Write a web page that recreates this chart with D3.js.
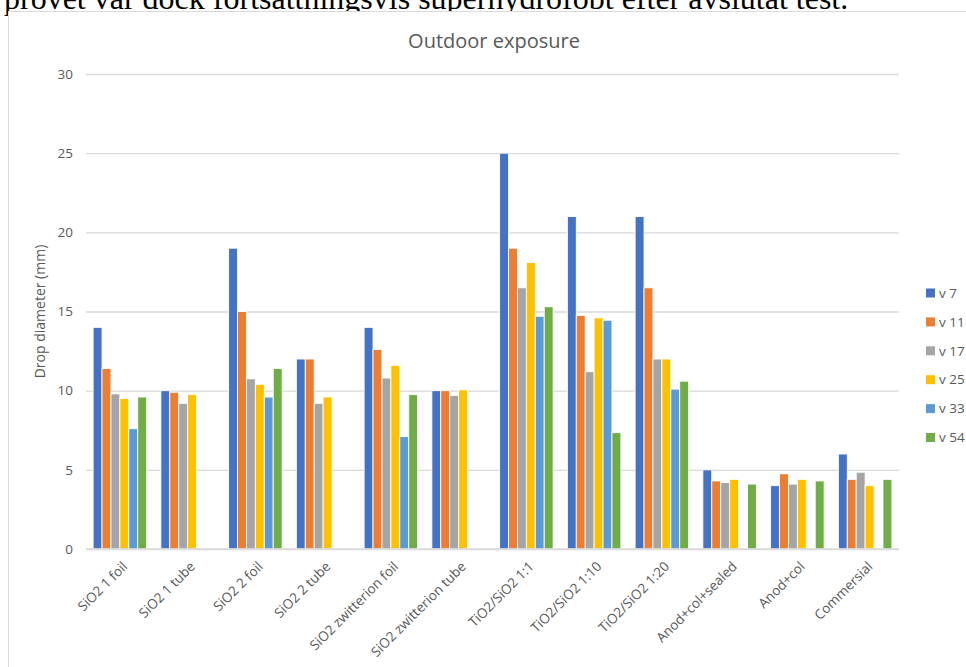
<!DOCTYPE html>
<html>
<head>
<meta charset="utf-8">
<script src="https://cdn.jsdelivr.net/npm/d3@7"></script>
<style>
  html, body { margin: 0; padding: 0; background: #fff; overflow: hidden; }
  svg { display: block; }
</style>
</head>
<body>
<svg id="chart" width="966" height="667"></svg>
<script>
// Drop diameter measured after outdoor exposure, per coating and week
const categories = ["SiO2 1 foil", "SiO2 1 tube", "SiO2 2 foil", "SiO2 2 tube",
  "SiO2 zwitterion foil", "SiO2 zwitterion tube", "TiO2/SiO2 1:1", "TiO2/SiO2 1:10",
  "TiO2/SiO2 1:20", "Anod+col+sealed", "Anod+col", "Commersial"];
const seriesNames = ["v 7", "v 11", "v 17", "v 25", "v 33", "v 54"];
const v7  = [14, 10, 19, 12, 14, 10, 25, 21, 21, 5, 4, 6];
const v11 = [11.4, 9.9, 15, 12, 12.6, 10, 19, 14.75, 16.5, 4.3, 4.75, 4.4];
const v17 = [9.8, 9.2, 10.75, 9.2, 10.8, 9.7, 16.5, 11.2, 12, 4.2, 4.1, 4.85];
const v25 = [9.5, 9.75, 10.4, 9.6, 11.6, 10.05, 18.1, 14.6, 12, 4.4, 4.4, 4.0];
const v33 = [7.6, null, 9.6, null, 7.1, null, 14.7, 14.45, 10.1, null, null, null];
const v54 = [9.6, null, 11.4, null, 9.75, null, 15.3, 7.35, 10.6, 4.1, 4.3, 4.4];
const seriesValues = [v7, v11, v17, v25, v33, v54];
const yTicks = [0, 5, 10, 15, 20, 25, 30];
const colors = ["#4472C4", "#ED7D31", "#A5A5A5", "#FFC000", "#5B9BD5", "#70AD47"];
const chartTitle = "Outdoor exposure";
const yTitle = "Drop diameter (mm)";
const docLine = "provet var dock fortsättningsvis superhydrofobt efter avslutat test.";

const font = "'Open Sans', sans-serif";
const textGray = "#595959";
const gridGray = "#d9d9d9";

const svg = d3.select("#chart");

// surrounding document text line
svg.append("text")
  .attr("x", 4).attr("y", 9)
  .attr("font-family", "'Liberation Serif', 'Times New Roman', serif")
  .attr("font-size", 32)
  .attr("fill", "#000")
  .text(docLine);

// chart frame
svg.append("rect")
  .attr("x", 8.5).attr("y", 11.5)
  .attr("width", 1000).attr("height", 700)
  .attr("fill", "#fff")
  .attr("stroke", gridGray).attr("stroke-width", 1);

const plot = { left: 86, right: 899, top: 74, bottom: 549 };

const y = d3.scaleLinear().domain([0, 30]).range([plot.bottom, plot.top]);
const x0 = d3.scaleBand().domain(categories).range([plot.left, plot.right])
  .paddingInner(0.21).paddingOuter(0.105);
const x1 = d3.scaleBand().domain(seriesNames).range([0, x0.bandwidth()]);

// gridlines
const grid = d3.axisLeft(y).tickValues(yTicks)
  .tickSize(-(plot.right - plot.left)).tickFormat("");
svg.append("g")
  .attr("transform", `translate(${plot.left},0)`)
  .call(grid)
  .call(g => g.select(".domain").remove())
  .call(g => g.selectAll("line").attr("stroke", gridGray).attr("stroke-width", 1.3));

// y tick labels
const yAxis = d3.axisLeft(y).tickValues(yTicks).tickSize(0).tickPadding(13);
svg.append("g")
  .attr("transform", `translate(${plot.left},0)`)
  .call(yAxis)
  .call(g => g.select(".domain").remove())
  .call(g => g.selectAll("text")
    .attr("font-family", font).attr("font-size", 13.5).attr("fill", textGray));

// bars
const groups = svg.append("g").selectAll("g")
  .data(categories)
  .join("g")
  .attr("transform", d => `translate(${x0(d)},0)`);

groups.selectAll("rect")
  .data((c, i) => seriesNames.map((s, k) => ({ s, k, v: seriesValues[k][i] }))
    .filter(d => d.v != null))
  .join("rect")
  .attr("x", d => x1(d.s))
  .attr("width", x1.bandwidth())
  .attr("y", d => y(d.v))
  .attr("height", d => y(0) - y(d.v))
  .attr("fill", d => colors[d.k])
  .attr("stroke", "#fff").attr("stroke-width", 0.9);

// x axis line and category labels
const xAxis = d3.axisBottom(x0).tickSize(0).tickPadding(0);
svg.append("g")
  .attr("transform", `translate(0,${plot.bottom})`)
  .call(xAxis)
  .call(g => g.select(".domain").attr("stroke", gridGray).attr("stroke-width", 1.3)
    .attr("d", `M${plot.left},0H${plot.right}`))
  .call(g => g.selectAll("text")
    .attr("font-family", font).attr("font-size", 13.5).attr("fill", textGray)
    .attr("text-anchor", "end")
    .attr("dy", "0.35em")
    .attr("transform", "translate(5,15) rotate(-45)"));

// chart title
svg.append("text")
  .attr("x", 494).attr("y", 48)
  .attr("text-anchor", "middle")
  .attr("font-family", font).attr("font-size", 20)
  .attr("fill", textGray)
  .text(chartTitle);

// y axis title
svg.append("text")
  .attr("transform", `translate(45,${(plot.top + plot.bottom) / 2}) rotate(-90)`)
  .attr("text-anchor", "middle")
  .attr("font-family", font).attr("font-size", 14)
  .attr("fill", textGray)
  .text(yTitle);

// legend
const legend = svg.append("g").selectAll("g")
  .data(seriesNames)
  .join("g")
  .attr("transform", (d, i) => `translate(926,${293 + i * 28.9})`);
legend.append("rect")
  .attr("x", 0).attr("y", -4.5).attr("width", 9).attr("height", 9)
  .attr("fill", (d, i) => colors[i]);
legend.append("text")
  .attr("x", 13).attr("y", 0).attr("dy", "0.35em")
  .attr("font-family", font).attr("font-size", 13.5)
  .attr("fill", textGray)
  .text(d => d);
</script>
</body>
</html>
